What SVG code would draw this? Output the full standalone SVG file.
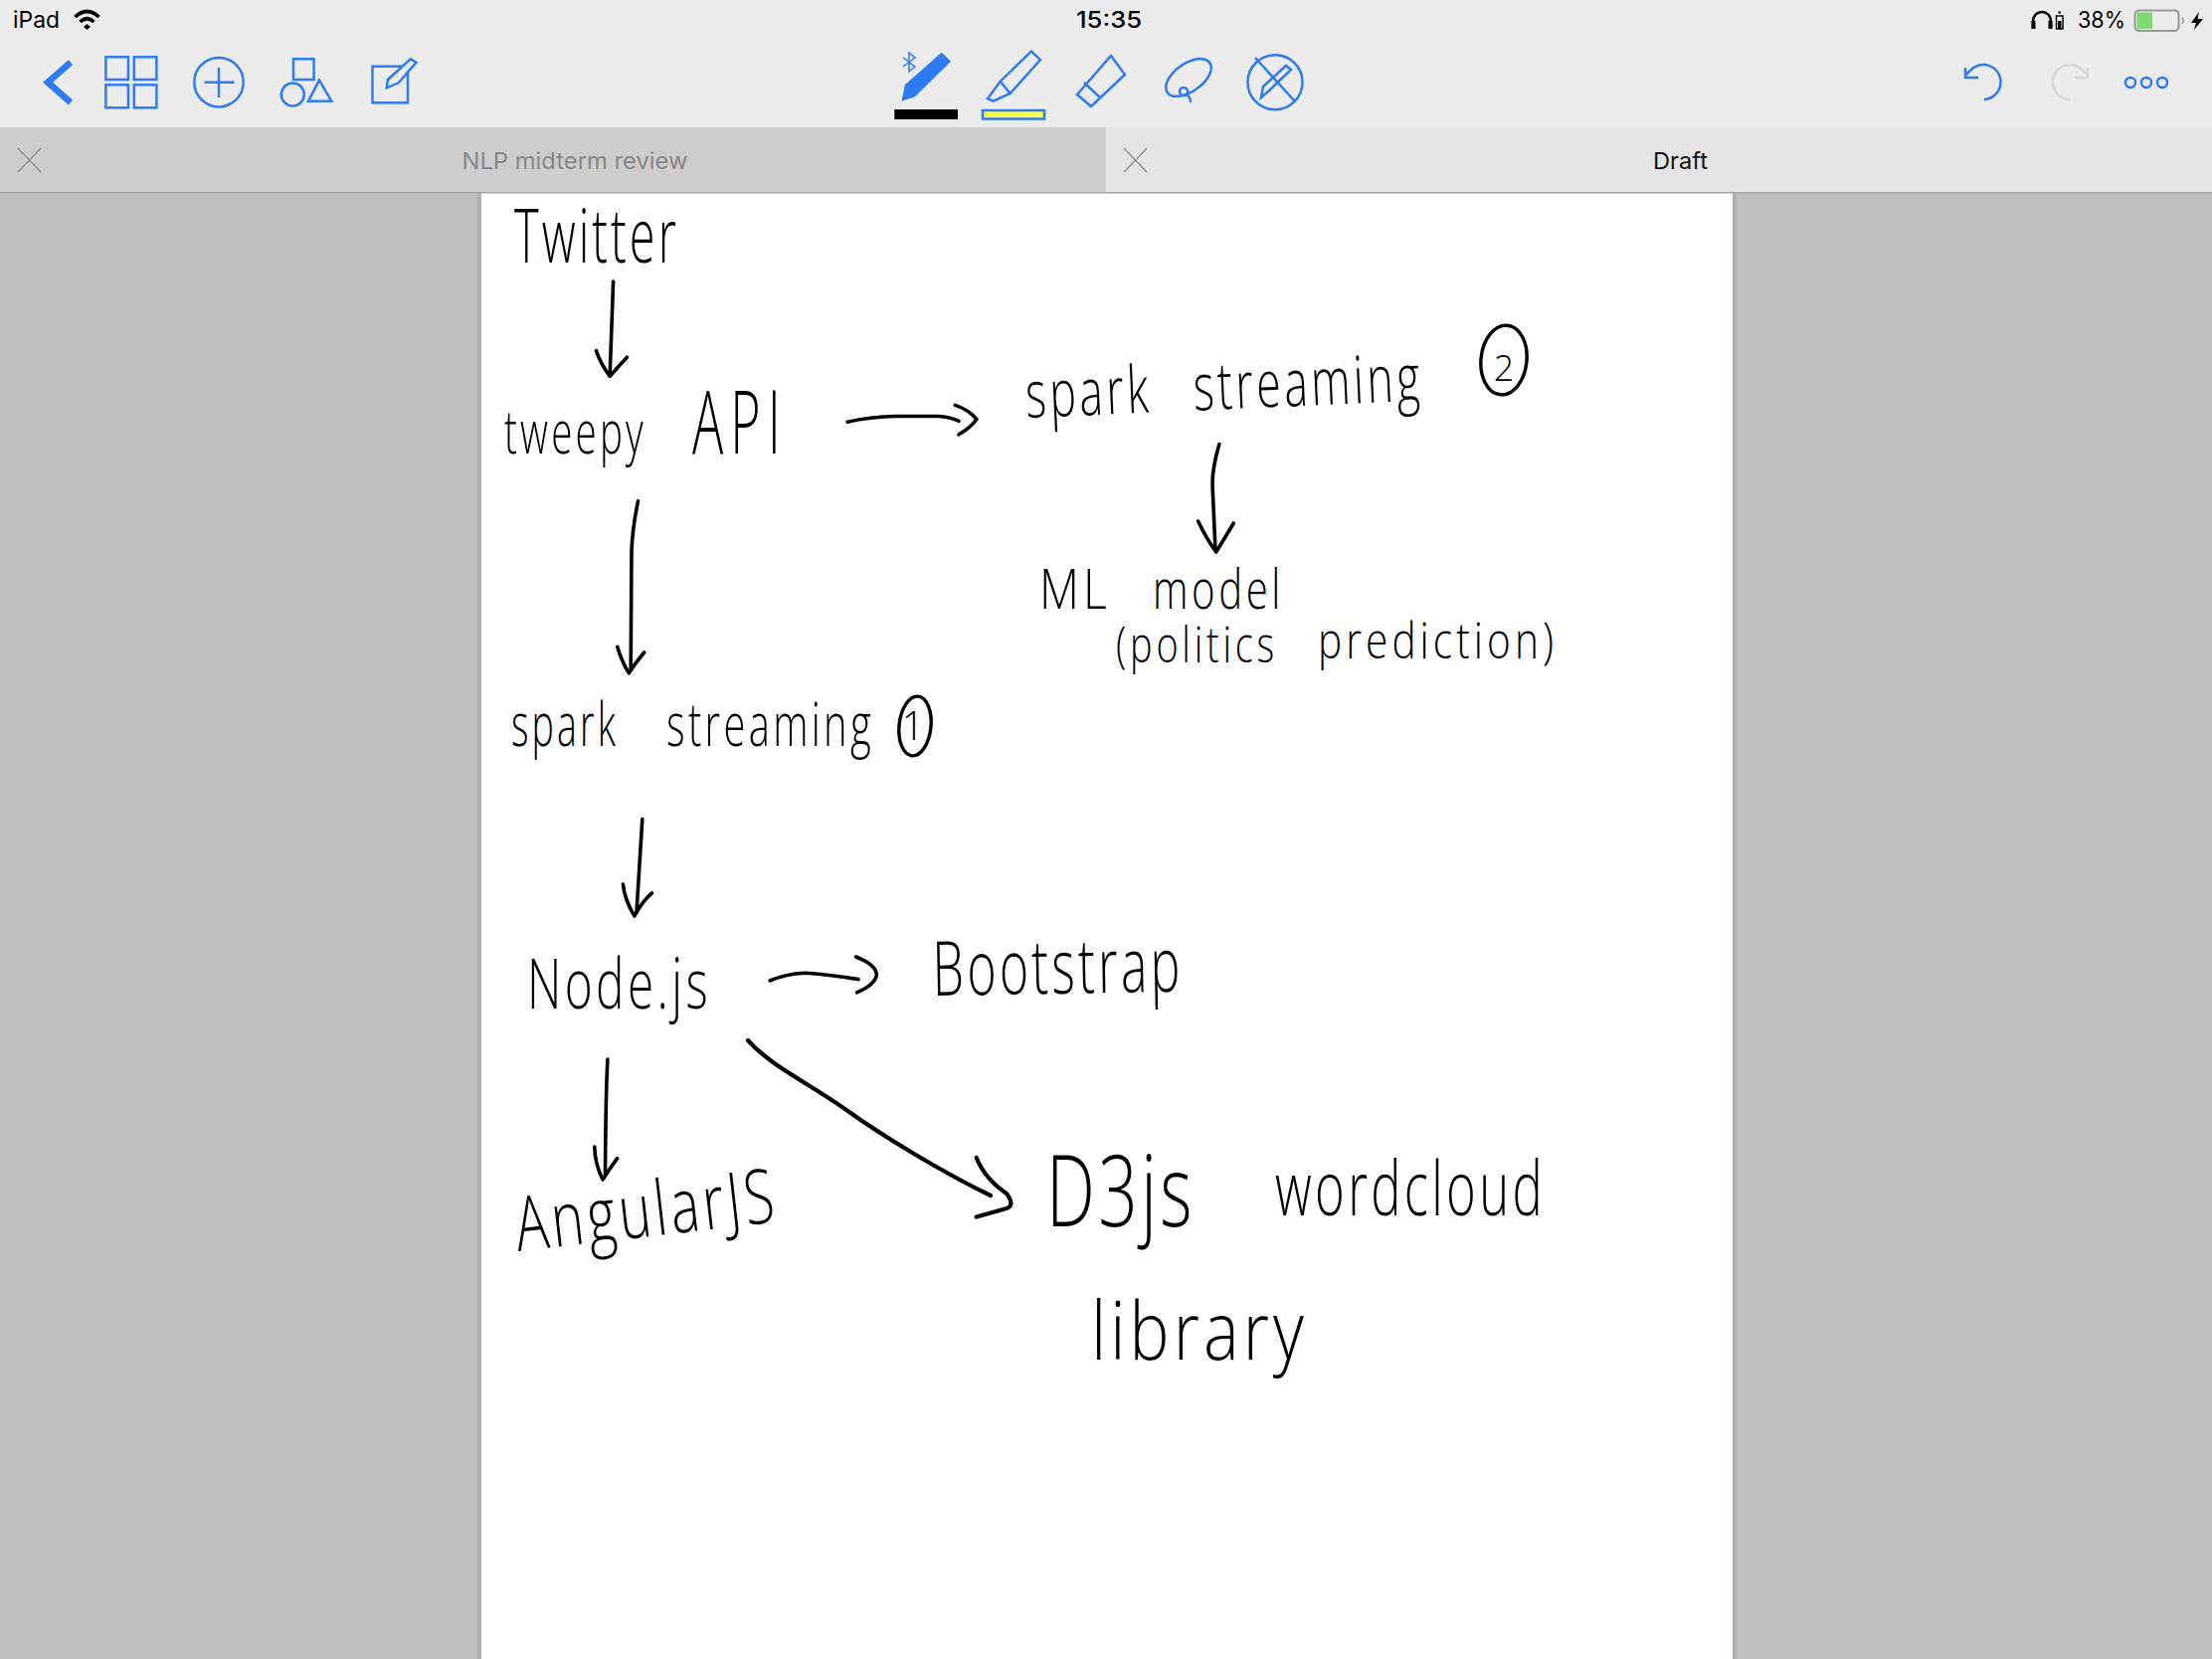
<svg xmlns="http://www.w3.org/2000/svg" width="2224" height="1668" viewBox="0 0 2224 1668">
<style>
.ui{font-family:"Inter","Liberation Sans",sans-serif;font-size:23px}
.hw{font-family:"Open Sans","Liberation Sans",sans-serif;font-weight:300;fill:#000;letter-spacing:5px}
.ic{fill:none;stroke:#2f7bf6;stroke-width:2.5;stroke-linejoin:miter}
.ar{fill:none;stroke:#000;stroke-width:3.6;stroke-linecap:round;stroke-linejoin:round}
.cr{fill:none;stroke:#000;stroke-width:3.4}
.cl{stroke:#8a8a8a;stroke-width:1.2;fill:none}
</style>
<rect width="2224" height="1668" fill="#bebebe"/>
<g id="page"><rect x="480" y="194" width="4" height="1474" fill="#b0b0b0"/><rect x="1742" y="194" width="4" height="1474" fill="#b0b0b0"/><rect x="484" y="194" width="1258" height="1474" fill="#fff"/></g>
<g id="toolbar">
<rect width="2224" height="128" fill="#ececec"/>
<rect y="128" width="1112" height="65" fill="#cdcdcd"/>
<rect x="1112" y="128" width="1112" height="65" fill="#e4e4e4"/>
<rect y="193" width="2224" height="1.5" fill="#a6a6a6"/>
<text class="ui" x="13" y="28" textLength="47" lengthAdjust="spacingAndGlyphs">iPad</text>
<g id="wifi" fill="none" stroke="#000" stroke-width="3.6"><path d="M75.5 17Q87.5 6 99.5 17"/><path d="M80.5 22Q87.5 15.500 94.500 22"/><path d="M84 27 87.500 30 91 27 87.500 24Z" fill="#000" stroke="none"/></g>
<text class="ui" x="1082" y="28" textLength="66" lengthAdjust="spacingAndGlyphs" font-weight="500">15:35</text>
<g id="status-right">
<path d="M2044 29V21a9 9 0 0 1 18 0V29" fill="none" stroke="#000" stroke-width="2.5"/><rect x="2042.500" y="21" width="4" height="8"/><rect x="2059.500" y="21" width="4" height="8"/>
<rect x="2067.500" y="16" width="6.500" height="13" fill="#fff" stroke="#000" stroke-width="1.5"/><rect x="2069" y="21" width="3.500" height="8"/><circle cx="2070.700" cy="12.500" r="1.300"/>
<text class="ui" x="2089" y="28" textLength="48" lengthAdjust="spacingAndGlyphs">38%</text>
<rect x="2146.500" y="10.500" width="44" height="20.500" rx="4" fill="none" stroke="#999" stroke-width="2"/><rect x="2148.500" y="12.500" width="15.500" height="16.500" fill="#7cdc6f"/>
<path d="M2194 17.500a5 5 0 0 1 0 6" fill="none" stroke="#999" stroke-width="1.5"/>
<path d="M2211 12 2203 23H2208L2206 30 2215 19H2209.500Z"/>
</g>
<path d="M71 62.700 48 82.700 71 103" fill="none" stroke="#2f7bf6" stroke-width="6.500"/>
<g id="tool-icons" class="ic">
<rect x="106.400" y="57.300" width="22.600" height="22.700"/><rect x="134.800" y="57.300" width="22.600" height="22.700"/><rect x="106.400" y="85.300" width="22.600" height="23"/><rect x="134.800" y="85.300" width="22.600" height="23"/>
<circle cx="220" cy="82.700" r="24.700"/><path d="M205.700 82.700H235.500M220 68V98"/>
<rect x="295" y="59.300" width="20.600" height="20.700"/><circle cx="294.300" cy="95" r="11.500"/><path d="M321 80.700 333.300 101.700H310Z"/>
<rect x="374.500" y="66.700" width="35.500" height="36.600"/><path d="M388.700 88.300 390 80 412.800 59.300 418.400 62.700 400.700 83.300Z" fill="#ececec"/>
<path d="M1036.900 51.700 1046 60 1015.600 94 998.600 101.700 993 99.300 1005.700 81.700Z M1005.700 81.700 1015.600 94"/>
<path d="M1083 95 1117 56 1131 75 1097 107Z M1090 83 1106 98"/>
<ellipse cx="1195" cy="78" rx="26" ry="14" transform="rotate(-35 1195 78)"/><circle cx="1190" cy="92" r="4"/><path d="M1193 95Q1197 98 1197 103"/>
<circle cx="1282" cy="82.700" r="27.500"/><path d="M1262 58 1302 102"/><path d="M1268 98 1270 87 1293 66 1298 70 1275 92Z"/>
<path d="M1976 68V78H1989M1976 76 Q1985 65 1993 65A17.500 17.500 0 0 1 1995 100"/>
<path d="M2099 68V78H2086M2099 76Q2090 65 2082 65A17.500 17.500 0 0 0 2081 100" style="stroke:#d8d8d8"/>
<circle cx="2142" cy="83" r="5"/><circle cx="2158" cy="83" r="5"/><circle cx="2174" cy="83" r="5"/>
</g>
<path d="M906.400 101.700 910 85 946.800 52.700 956 61.700 919.900 97.300Z" fill="#2f7bf6"/>
<path d="M908 58 920 67 914 72V53L920 58 908 67" fill="none" stroke="#2f7bf6" stroke-width="1.500"/>
<rect x="899.300" y="110" width="63.700" height="10"/>
<rect x="988" y="111" width="62" height="8.500" fill="#ffff4d" stroke="#2f7bf6" stroke-width="2.500"/>
<path class="cl" d="M18 149 41 173M41 149 18 173M1130 149 1153 173M1153 149 1130 173"/>
<text class="ui" x="464.500" y="170" textLength="227" lengthAdjust="spacingAndGlyphs" fill="#888">NLP midterm review</text>
<text class="ui" x="1662" y="170" textLength="55" lengthAdjust="spacingAndGlyphs" fill="#111">Draft</text>
</g>
<g id="connectors">
<path class="ar" d="M616.600 283 613.200 377M599.400 352.600Q604 366 613.200 378.300 622 368 630.400 359.200"/>
<path class="ar" d="M852 424.200Q875 419 901 418.500H943Q955 419 964 423.400M960.300 407.400Q974 412 982 421.500 976 430 964 436.800"/>
<path class="ar" d="M641.500 503.800Q636 530 635 553.600L634.200 672.200M620.800 650.400Q625 665 632.300 676.800 640 665 647.600 656"/>
<path class="ar" d="M1225.800 446.700Q1219 470 1219 486.700L1222 553.300M1204.700 524Q1212 540 1222.700 555 1232 540 1240.300 526"/>
<path class="ar" d="M645.800 823.600 640 917.500M626.400 889Q628 905 638 921 645 907 655.500 897.900"/>
<path class="ar" d="M774.200 986Q790 979 809.600 978.200 835 980 863 984.600M860.500 962Q881 970 881.400 980 880 990 861.500 997.900"/>
<path class="ar" d="M610.900 1065Q609 1100 608.500 1181.800M597.800 1153Q598 1170 606 1186 613 1175 620.600 1164.600"/>
<path class="ar" d="M752 1046C775 1072 815 1090 851 1116S950 1180 996 1202M981.700 1164Q990 1185 1012 1200 1021 1212 1012 1215L981.700 1223.600" style="stroke-width:4.200"/>
</g>
<g id="twitter"><text class="hw" x="517" y="264" font-size="76" textLength="166" lengthAdjust="spacingAndGlyphs">Twitter</text></g>
<g id="tweepy-api"><text class="hw" y="456"><tspan x="507" font-size="60" textLength="143" lengthAdjust="spacingAndGlyphs">tweepy</tspan> <tspan x="696" font-size="88" textLength="96" lengthAdjust="spacingAndGlyphs" style="letter-spacing:12px">API</tspan></text></g>
<g id="spark-streaming-1">
<text class="hw" y="750"><tspan x="514" font-size="60" textLength="108" lengthAdjust="spacingAndGlyphs">spark</tspan> <tspan x="670" font-size="60" textLength="209" lengthAdjust="spacingAndGlyphs">streaming</tspan></text>
<ellipse class="cr" cx="920" cy="730" rx="16" ry="30" transform="rotate(6 920 730)"/><text class="hw" x="918" y="744" font-size="40" text-anchor="middle" style="letter-spacing:0">1</text>
</g>
<g id="spark-streaming-2">
<text class="hw" transform="rotate(-2.500 1032 420)"><tspan x="1032" y="420" font-size="66" textLength="127" lengthAdjust="spacingAndGlyphs">spark</tspan> <tspan x="1201" y="420" font-size="66" textLength="231" lengthAdjust="spacingAndGlyphs">streaming</tspan></text>
<ellipse class="cr" cx="1512" cy="362" rx="23" ry="35" transform="rotate(6 1512 362)"/><text class="hw" x="1512" y="383" font-size="36" text-anchor="middle" style="letter-spacing:0">2</text>
</g>
<g id="ml-model">
<text class="hw" y="612"><tspan x="1045" font-size="56" textLength="72" lengthAdjust="spacingAndGlyphs">ML</tspan> <tspan x="1159" font-size="56" textLength="132" lengthAdjust="spacingAndGlyphs">model</tspan></text>
<text class="hw" y="666"><tspan x="1122" font-size="50" textLength="163" lengthAdjust="spacingAndGlyphs">(politics</tspan> <tspan x="1325" y="662" font-size="50" textLength="241" lengthAdjust="spacingAndGlyphs">prediction)</tspan></text>
</g>
<g id="nodejs"><text class="hw" x="530" y="1014" font-size="70" textLength="185" lengthAdjust="spacingAndGlyphs">Node.js</text></g>
<g id="bootstrap"><text class="hw" transform="rotate(-1 938 1001)" x="938" y="1001" font-size="76" textLength="252" lengthAdjust="spacingAndGlyphs">Bootstrap</text></g>
<g id="angularjs"><text class="hw" transform="rotate(-6.500 521 1258)" x="521" y="1258" font-size="76" textLength="265" lengthAdjust="spacingAndGlyphs">AngularJS</text></g>
<g id="d3js-wordcloud">
<text class="hw" y="1233"><tspan x="1052" font-size="100" textLength="150" lengthAdjust="spacingAndGlyphs">D3js</tspan> <tspan x="1282" y="1222" font-size="76" textLength="272" lengthAdjust="spacingAndGlyphs">wordcloud</tspan></text>
<text class="hw" x="1097" y="1367" font-size="82" textLength="218" lengthAdjust="spacingAndGlyphs">library</text>
</g>
</svg>
